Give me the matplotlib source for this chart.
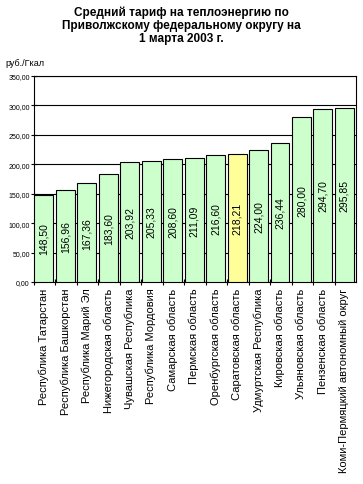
import matplotlib
matplotlib.use("Agg")
import matplotlib.pyplot as plt
import numpy as np

regions = ["Республика Татарстан", "Республика Башкорстан", "Республика Марий Эл",
           "Нижегородская область", "Чувашская Республика", "Республика Мордовия",
           "Самарская область", "Пермская область", "Оренбургская область",
           "Саратовская область", "Удмуртская Республика", "Кировская область",
           "Ульяновская область", "Пензенская область", "Коми-Пермяцкий автономный округ"]
tariffs = [148.50, 156.96, 167.36, 183.60, 203.92, 205.33, 208.60, 211.09,
           216.60, 218.21, 224.00, 236.44, 280.00, 294.70, 295.85]
highlight = "Саратовская область"
y_ticks = [0, 50, 100, 150, 200, 250, 300, 350]

plt.rcParams['font.family'] = ['Liberation Sans', 'DejaVu Sans']

fig = plt.figure(figsize=(3.63, 4.85), dpi=100)
ax = fig.add_axes([34 / 363, 1 - 283 / 485, 322 / 363, 206 / 485])

x = np.arange(len(tariffs))
colors = ['#FFFF99' if r == highlight else '#CCFFCC' for r in regions]
ax.bar(x, tariffs, width=0.88, color=colors, edgecolor='black', linewidth=0.8, zorder=3)

# подписи значений внутри столбцов
for xi, v in zip(x, tariffs):
    ax.text(xi, v / 2, f"{v:.2f}".replace(".", ","), rotation=90, ha='center', va='center',
            fontsize=7.5, zorder=4)

ax.set_xlim(-0.46, len(tariffs) - 0.46)
ax.set_ylim(0, 350)
ax.set_yticks(y_ticks)
ax.set_yticklabels([f"{t:.2f}".replace(".", ",") for t in y_ticks], fontsize=5)
ax.yaxis.grid(True, color='black', linewidth=0.8, zorder=0)
ax.tick_params(axis='y', direction='inout', length=4, width=0.8, pad=1)

ax.set_xticks(x - 0.5 + 0.04, minor=True)
ax.set_xticks(x)
ax.set_xticklabels(regions, rotation=90, fontsize=8, va='top')
ax.tick_params(axis='x', which='major', length=0, pad=4)
ax.tick_params(axis='x', which='minor', direction='inout', length=4, width=0.8)

for s in ax.spines.values():
    s.set_linewidth(0.8)

fig.text(0.5, 1 - 26 / 485, "Средний тариф на теплоэнергию по\nПриволжскому федеральному округу на\n1 марта 2003 г.",
         ha='center', va='center', fontsize=8.5, fontweight='bold', linespacing=1.1)
fig.text(5 / 363, 1 - 64 / 485, "руб./Гкал", ha='left', va='center', fontsize=6.5)

fig.savefig("out.png", dpi=100)
